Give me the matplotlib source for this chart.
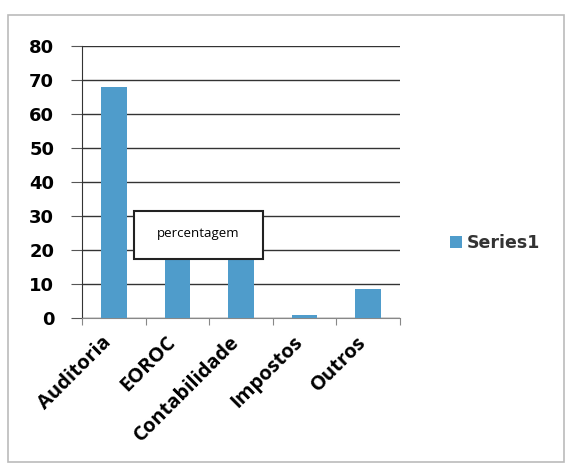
import matplotlib.pyplot as plt
from matplotlib.patches import Rectangle
from matplotlib.transforms import ScaledTranslation

categories = ['Auditoria', 'EOROC', 'Contabilidade', 'Impostos', 'Outros']
values = [68, 17, 17, 1, 8.5]
y_ticks = [0, 10, 20, 30, 40, 50, 60, 70, 80]

bar_color = '#4f9ccb'

fig = plt.figure(figsize=(5.67, 4.68), dpi=100)
fig.patch.set_facecolor('white')

# outer chart frame
fig.patches.append(Rectangle((8 / 567, 6 / 468), 0.995 - 8 / 567, 447 / 468,
                             transform=fig.transFigure, fill=False,
                             edgecolor='#bbbbbb', linewidth=1.2))

ax = fig.add_axes([82 / 567, 1 - 318 / 468, 318 / 567, 272 / 468])
x = list(range(len(categories)))
ax.bar(x, values, width=0.4, color=bar_color, label='Series1', zorder=3)

ax.set_xlim(-0.5, len(categories) - 0.5)
ax.set_ylim(0, 80)
ax.set_yticks(y_ticks)
ax.set_yticklabels([str(v) for v in y_ticks], fontsize=13, fontweight='bold',
                   family='DejaVu Sans')
ax.yaxis.grid(True, color='#333333', linewidth=1.0, zorder=0)

# category labels, rotated, drawn as text so they can sit left of the bars
ax.set_xticks([i - 0.5 for i in range(len(categories) + 1)])
ax.set_xticklabels([])
ax.tick_params(axis='x', length=5, color='#888888')
shift = ScaledTranslation(-12 / 100, -14 / 100, fig.dpi_scale_trans)
for i, name in zip(x, categories):
    ax.text(i, 0, name, transform=ax.get_xaxis_transform() + shift,
            rotation=45, ha='right', va='top', rotation_mode='anchor',
            fontsize=14.5, fontweight='bold', family='Open Sans')
ax.tick_params(axis='y', length=8, color='#555555', pad=12)

for s in ['top', 'right']:
    ax.spines[s].set_visible(False)
ax.spines['left'].set_color('#333333')
ax.spines['bottom'].set_color('#888888')

# label box
fig.patches.append(Rectangle((134 / 567, 1 - 259 / 468), 129 / 567, 48 / 468,
                             transform=fig.transFigure, facecolor='white',
                             edgecolor='#222222', linewidth=1.5, zorder=5))
fig.text(198 / 567, 1 - 233 / 468, 'percentagem', ha='center', va='center',
         fontsize=9.5, family='Open Sans', zorder=6)

fig.legend(loc='center left', bbox_to_anchor=(434 / 567, 1 - 243 / 468),
           frameon=False, prop={'family': 'DejaVu Sans', 'size': 12.5, 'weight': 'bold'},
           handlelength=0.7, handleheight=0.7, handletextpad=0.3,
           labelcolor='#333333')

fig.savefig('out.png', dpi=100)
